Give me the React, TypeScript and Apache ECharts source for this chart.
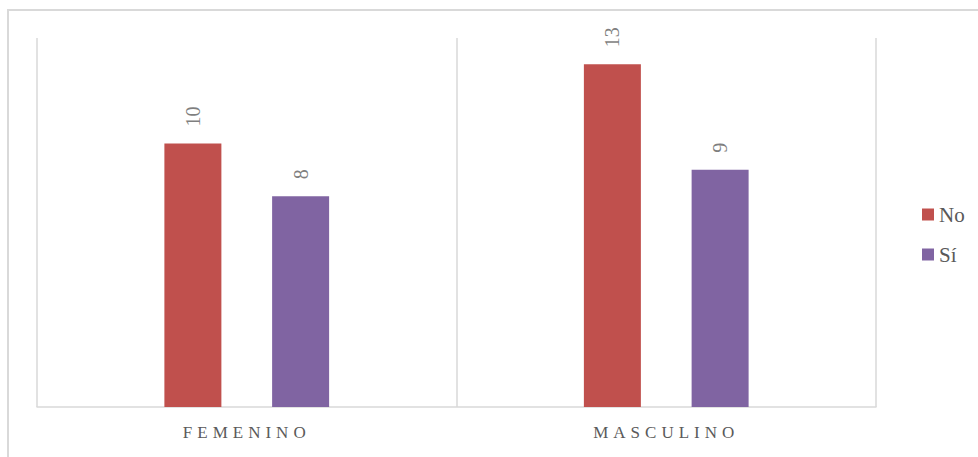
import React, { useEffect, useRef } from "react";
import * as echarts from "echarts";

const categories = ["FEMENINO", "MASCULINO"];
const seriesNames = ["No", "Sí"];
const noValues = [10, 13];
const siValues = [8, 9];
const colors = ["#c0504d", "#8064a2"];

export default function App() {
  const ref = useRef<HTMLDivElement>(null);
  useEffect(() => {
    if (!ref.current) return;
    const chart = echarts.init(ref.current, null, { renderer: "svg" });
    const labelCfg = {
      show: true,
      position: "top",
      rotate: 90,
      align: "left",
      verticalAlign: "middle",
      distance: 17,
      color: "#7f7f7f",
      fontSize: 20,
      fontFamily: "Liberation Serif",
    };
    chart.setOption({
      animation: false,
      backgroundColor: "#ffffff",
      graphic: [
        {
          type: "rect",
          shape: { x: 8, y: 10, width: 1200, height: 1200 },
          style: { fill: "none", stroke: "#d9d9d9", lineWidth: 2 },
          silent: true,
        },
      ],
      grid: { left: 37, right: 102, top: 38, bottom: 50 },
      legend: {
        orient: "vertical",
        left: 917,
        top: 199,
        icon: "rect",
        itemWidth: 12,
        itemHeight: 12,
        itemGap: 19,
        data: seriesNames,
        textStyle: { fontSize: 21, color: "#595959", fontFamily: "Liberation Serif" },
      },
      xAxis: {
        type: "category",
        data: categories,
        axisLine: { show: true, lineStyle: { color: "#d9d9d9", width: 1.5 } },
        axisTick: { show: false },
        splitLine: { show: true, lineStyle: { color: "#d9d9d9", width: 1.5 } },
        axisLabel: {
          color: "#5a5a5a",
          fontSize: 17,
          fontFamily: "Liberation Serif",
          margin: 17,
        },
      },
      yAxis: {
        type: "value",
        min: 0,
        max: 14,
        show: false,
        splitLine: { show: false },
      },
      series: [
        {
          name: seriesNames[0],
          type: "bar",
          data: noValues,
          barWidth: 57,
          barGap: "89%",
          itemStyle: { color: colors[0] },
          label: labelCfg,
        },
        {
          name: seriesNames[1],
          type: "bar",
          data: siValues,
          barWidth: 57,
          barGap: "89%",
          itemStyle: { color: colors[1] },
          label: labelCfg,
        },
      ],
    });
    return () => chart.dispose();
  }, []);
  return (
    <>
      <style>{'text[fill="#5a5a5a"] { letter-spacing: 5px; }'}</style>
      <div
        ref={ref}
        style={{ position: "absolute", left: 0, top: 0, width: 978, height: 457 }}
      />
    </>
  );
}
